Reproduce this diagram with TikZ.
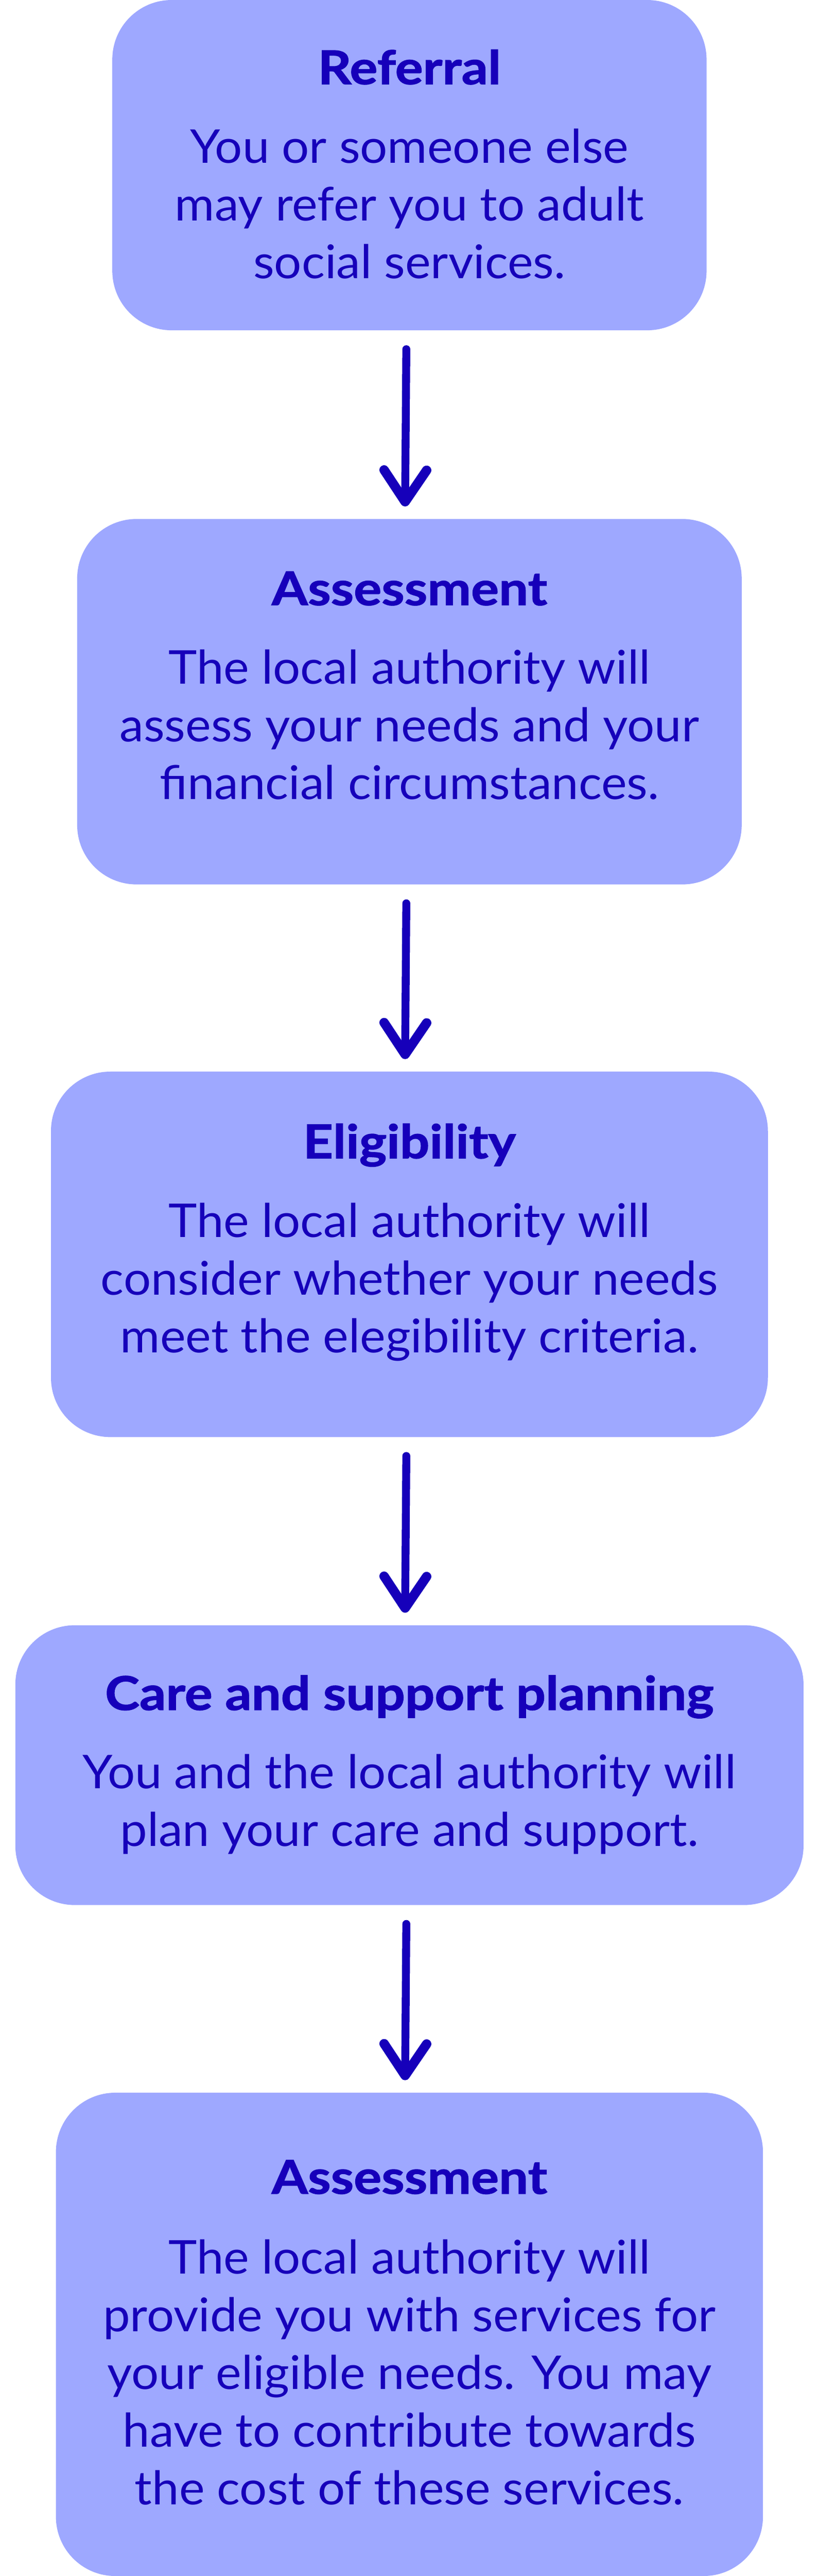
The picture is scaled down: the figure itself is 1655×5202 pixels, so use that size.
\documentclass[tikz,border=0pt]{standalone}
\usepackage{fontspec}
\setmainfont{Lato}[FakeStretch=1.04, BoldFeatures={FakeStretch=1.12, FakeBold=1.5}]
\usetikzlibrary{arrows.meta}
\definecolor{stepfill}{RGB}{158,168,255}
\definecolor{stepink}{RGB}{22,0,186}

\tikzset{
  stepbox/.style={fill=stepfill, rounded corners=120pt, inner sep=0pt},
  steptitle/.style={text=stepink, font=\fontsize{94}{116}\selectfont\bfseries, anchor=base, inner sep=0pt},
  % base of a multi-line node = baseline of its last line
  steptext/.style={text=stepink, font=\fontsize{94}{116.5}\selectfont, align=center, anchor=base, inner sep=0pt},
  crayon/.style={draw=stepink, line width=16pt, line cap=round, line join=round,
    shorten <=38pt, shorten >=25pt,
    -{Straight Barb[length=64pt, width=86pt, line width=19pt, round]}}
}

\begin{document}
\begin{tikzpicture}[x=1pt, y=-1pt]
\useasboundingbox (0,0) rectangle (1655,5202);

% Steps
\node[stepbox, minimum width=1201pt, minimum height=667pt] (referral) at (827.5,333.5) {};
\node[steptitle] (referral-title) at (827.5,170) {Referral};
\node[steptext] (referral-text) at (827.5,562) {You or someone else\\may refer you to adult\\social services.};

\node[stepbox, minimum width=1343pt, minimum height=738pt] (assessment) at (827.5,1417) {};
\node[steptitle] (assessment-title) at (827.5,1222) {Assessment};
\node[steptext] (assessment-text) at (827.5,1614) {The local authority will\\assess your needs and your\\financial circumstances.};

\node[stepbox, minimum width=1449pt, minimum height=738pt] (eligibility) at (827.5,2533) {};
\node[steptitle] (eligibility-title) at (827.5,2339) {Eligibility};
\node[steptext] (eligibility-text) at (827.5,2732) {The local authority will\\consider whether your needs\\meet the elegibility criteria.};

\node[stepbox, minimum width=1593pt, minimum height=565pt] (planning) at (827.5,3564.5) {};
\node[steptitle] (planning-title) at (827.5,3453) {Care and support planning};
\node[steptext] (planning-text) at (827.5,3728) {You and the local authority will\\plan your care and support.};

\node[stepbox, minimum width=1429pt, minimum height=976pt] (provision) at (827.5,4714) {};
\node[steptitle] (provision-title) at (827.5,4430) {Assessment};
\node[steptext] (provision-text) at (827.5,5058) {The local authority will\\provide you with services for\\your eligible needs. You may\\have to contribute towards\\the cost of these services.};

% Arrows
\foreach \from/\to in {referral/assessment, assessment/eligibility, eligibility/planning, planning/provision}
  \draw[crayon] ([xshift=-6pt]\from.south) -- ([xshift=-9pt]\to.north);
\end{tikzpicture}
\end{document}
